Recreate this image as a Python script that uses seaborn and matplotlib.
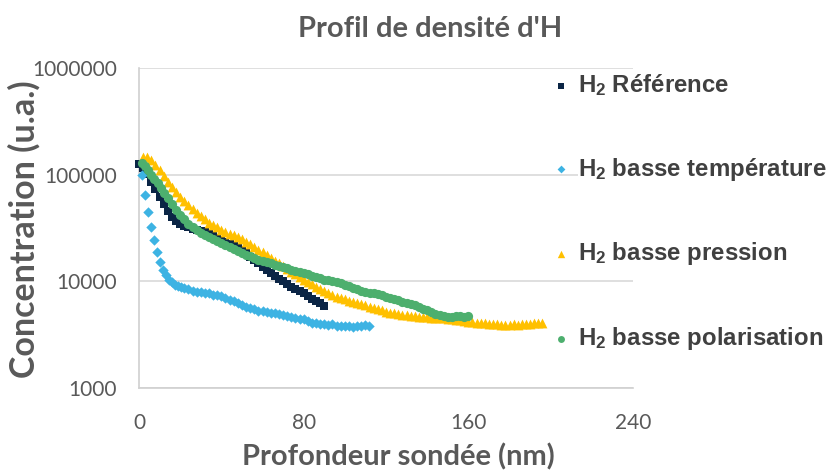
import matplotlib
matplotlib.use("Agg")
import matplotlib.pyplot as plt
import seaborn as sns
import pandas as pd
from matplotlib.ticker import FixedLocator, FixedFormatter, NullLocator
from matplotlib.font_manager import FontProperties

# H2 depth profiles: depth (nm) and hydrogen concentration (a.u.)
ref_depth = [0, 2, 4, 6, 8, 10, 12, 14, 16, 18, 20, 22, 24, 26, 28, 30, 32, 34, 36, 38,
             40, 42, 44, 46, 48, 50, 52, 54, 56, 58, 60, 62, 64, 66, 68, 70, 72, 74, 76,
             78, 80, 82, 84, 86, 88, 90]
ref_conc = [125000, 116000, 101000, 86000, 73000, 62000, 53000, 46000, 40500, 37000,
            34500, 33000, 32000, 31200, 30500, 29800, 29000, 28000, 26800, 25700,
            24600, 23500, 22500, 21500, 20500, 19500, 18300, 17000, 15800, 14700,
            13700, 12800, 12000, 11300, 10600, 10000, 9400, 8900, 8500, 8100,
            7700, 7300, 6900, 6500, 6200, 5900]

temp_depth = [1.4, 2.9, 4.4, 5.8, 7.3, 8.7, 10.2, 11.7, 13.1, 14.6, 16.0, 17.5, 19.0,
              20.4, 22, 24, 26, 28, 30, 32, 34, 36, 38, 40, 42, 44, 46, 48, 50, 52, 54,
              56, 58, 60, 62, 64, 66, 68, 70, 72, 74, 76, 78, 80, 82, 84, 86, 88, 90,
              92, 94, 96, 98, 100, 102, 104, 106, 108, 110, 111.5]
temp_conc = [100000, 64000, 45000, 32000, 24500, 19000, 15200, 12800, 11400, 10400,
             9800, 9300, 9000, 8800, 8600, 8400, 8200, 8000, 7900, 7850, 7700, 7500,
             7450, 7300, 7000, 6700, 6500, 6250, 6000, 5750, 5600, 5450, 5300, 5250,
             5150, 5050, 5000, 4950, 4800, 4700, 4600, 4500, 4450, 4400, 4250, 4100,
             4050, 4000, 3950, 3900, 3950, 3850, 3800, 3850, 3800, 3750, 3850, 3800,
             3900, 3850]

pres_depth = [2, 4, 6, 8, 10, 12, 14, 16, 18, 20, 22, 24, 26, 28, 30, 32, 34, 36, 38, 40,
              42, 44, 46, 48, 50, 52, 54, 56, 58, 60, 62, 64, 66, 68, 70, 72, 74, 76, 78,
              80, 82, 84, 86, 88, 90, 92, 94, 96, 98, 100, 102, 104, 106, 108, 110, 112,
              114, 116, 118, 120, 122, 124, 126, 128, 130, 132, 134, 136, 138, 140, 142,
              144, 146, 148, 150, 152, 154, 156, 158, 160, 162, 164, 166, 168, 170, 172,
              174, 176, 178, 180, 182, 184, 186, 188, 190, 192, 194, 196]
pres_conc = [145000, 146000, 138000, 124000, 110000, 97000, 86000, 77000, 69000, 62000,
             56500, 51500, 47500, 44000, 41000, 38000, 35500, 33500, 32000, 30500,
             29200, 28000, 27000, 26000, 24800, 23500, 22200, 21000, 19800, 18700,
             17600, 16600, 15600, 14700, 13800, 13000, 12300, 11600, 11000, 10400,
             9900, 9400, 8900, 8500, 8100, 7800, 7500, 7200, 7000, 6800, 6600, 6400,
             6250, 6100, 5950, 5800, 5650, 5500, 5350, 5200, 5100, 5000, 4900, 4850,
             4800, 4750, 4700, 4650, 4600, 4600, 4550, 4550, 4500, 4500, 4450, 4400,
             4350, 4300, 4250, 4200, 4150, 4100, 4100, 4050, 4000, 3950, 3950, 3900,
             3900, 3900, 3950, 3900, 3950, 4000, 4000, 4050, 4100, 4050]

pol_depth = [1.5, 3, 4.5, 6, 7.5, 9, 10.5, 12, 14, 16, 18, 20, 22, 24, 26, 28, 30, 32, 34,
             36, 38, 40, 42, 44, 46, 48, 50, 52, 54, 56, 58, 60, 62, 64, 66, 68, 70, 72,
             74, 76, 78, 80, 82, 84, 86, 88, 90, 92, 94, 96, 98, 100, 102, 104, 106, 108,
             110, 112, 114, 116, 118, 120, 122, 124, 126, 128, 130, 132, 134, 136, 138,
             140, 142, 144, 146, 148, 150, 152, 154, 156, 158, 160]
pol_conc = [128000, 120000, 110000, 100000, 91000, 83000, 75000, 68000, 60000, 53000,
            47000, 42000, 38000, 34500, 32000, 30000, 28500, 27200, 26000, 25000, 24000,
            23000, 22000, 21000, 20000, 19200, 18400, 17700, 17100, 16500, 16000, 15500,
            15100, 14700, 14300, 13900, 13500, 13200, 12900, 12600, 12300, 12000, 11600,
            11300, 11000, 10700, 10400, 10200, 10000, 9800, 9600, 9300, 9000, 8700, 8400,
            8100, 7950, 7850, 7750, 7600, 7400, 7200, 7000, 6800, 6650, 6450, 6250, 6100,
            5950, 5750, 5550, 5350, 5150, 4950, 4850, 4750, 4650, 4650, 4700, 4700, 4650,
            4700]

series_labels = ["$H_2$ Référence", "$H_2$ basse température",
                 "$H_2$ basse pression", "$H_2$ basse polarisation"]
x_ticks = [0, 80, 160, 240]
y_ticks = [1000, 10000, 100000, 1000000]
y_tick_labels = ["1000", "10000", "100000", "1000000"]

sns.set_theme(style="white")
plt.rcParams["mathtext.fontset"] = "custom"
plt.rcParams["mathtext.rm"] = "Liberation Sans:bold"
plt.rcParams["mathtext.it"] = "Liberation Sans:bold"
plt.rcParams["mathtext.bf"] = "Liberation Sans:bold"

fig = plt.figure(figsize=(8.3, 4.71), dpi=100)
ax = fig.add_axes([139 / 830, 83 / 471, 494 / 830, 320 / 471])

styles = [
    (ref_depth, ref_conc, "s", "#0B2545", 34),
    (temp_depth, temp_conc, "D", "#3DB3E3", 28),
    (pres_depth, pres_conc, "^", "#FFC000", 50),
    (pol_depth, pol_conc, "o", "#4DAF6E", 44),
]
for (depth, conc, marker, color, size), label in zip(styles, series_labels):
    df = pd.DataFrame({"depth": depth, "conc": conc})
    sns.scatterplot(data=df, x="depth", y="conc", marker=marker, color=color, s=size,
                    linewidth=0, label=label, ax=ax, clip_on=False, zorder=3)

ax.set_yscale("log")
ax.set_xlim(0, 240)
ax.set_ylim(1000, 1000000)
ax.yaxis.set_major_locator(FixedLocator(y_ticks))
ax.yaxis.set_major_formatter(FixedFormatter(y_tick_labels))
ax.yaxis.set_minor_locator(NullLocator())
ax.xaxis.set_major_locator(FixedLocator(x_ticks))

tick_font = FontProperties(family="Lato", size=15)
for lab in ax.get_xticklabels() + ax.get_yticklabels():
    lab.set_fontproperties(tick_font)
    lab.set_color("#595959")
ax.tick_params(axis="both", length=0)
ax.tick_params(axis="y", pad=16)
ax.tick_params(axis="x", pad=18)

ax.yaxis.grid(True, color="#D9D9D9", linewidth=1.2)
ax.xaxis.grid(False)
for side in ["top", "right"]:
    ax.spines[side].set_visible(False)
for side in ["left", "bottom"]:
    ax.spines[side].set_color("#D0D0D0")
    ax.spines[side].set_linewidth(1.2)

ax.set_xlabel("Profondeur sondée (nm)", family="Lato", weight="bold", size=21,
              color="#595959")
ax.set_ylabel("Concentration (u.a.)", family="Lato", weight="bold", size=24.5,
              color="#595959")
ax.xaxis.set_label_coords((398 - 139) / 494, (388 - 457) / 320)
ax.xaxis.label.set_va("center")
ax.yaxis.set_label_coords((24 - 139) / 494, (388 - 229) / 320)
ax.yaxis.label.set_va("center")

fig.text(430 / 830, 1 - 29 / 471, "Profil de densité d'H", ha="center", va="center",
         family="Lato", weight="bold", size=21, color="#595959")

leg = ax.legend(loc="upper left", bbox_to_anchor=(554 / 830, 1 - 72 / 471),
                bbox_transform=fig.transFigure, frameon=False,
                prop=FontProperties(family="Liberation Sans", weight="bold", size=17.3),
                labelcolor="#404040", labelspacing=2.40, handlelength=0.6,
                handletextpad=0.4, borderpad=0, borderaxespad=0, markerscale=0.75,
                scatterpoints=1)
for t in leg.get_texts():
    t.set_bbox(dict(facecolor="white", edgecolor="none", pad=0))

fig.savefig("out.png", dpi=100)
